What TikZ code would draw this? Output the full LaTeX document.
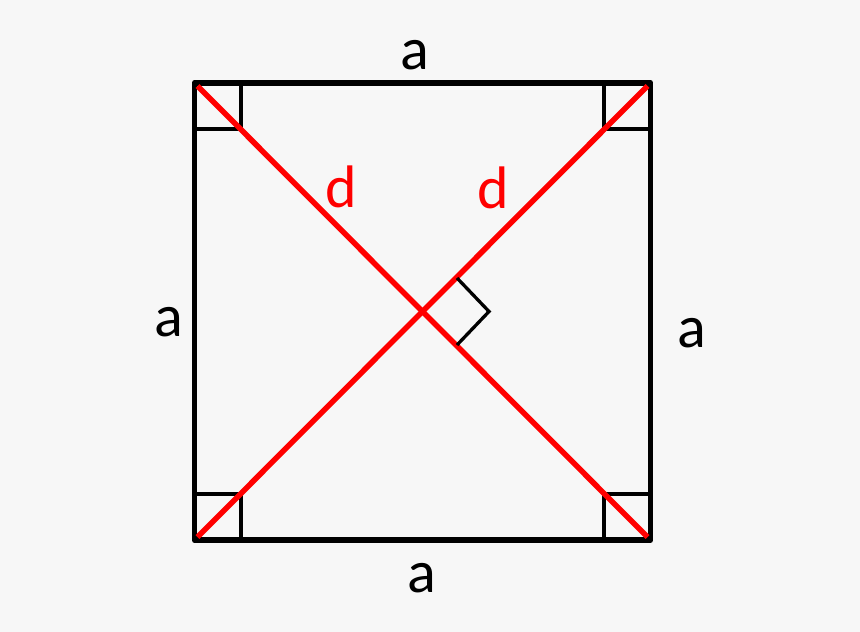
\documentclass[tikz,border=0pt]{standalone}
\usepackage{fontspec}
\setmainfont{Carlito}
\definecolor{bgcol}{HTML}{F7F7F7}
\definecolor{dred}{HTML}{FF0000}
\tikzset{
  side/.style={draw=black, line width=5.8pt, line join=round},
  cornermark/.style={draw=black, line width=3.3pt},
  diag/.style={draw=dred, line width=5.5pt},
  lbl/.style={font=\fontsize{60}{60}\selectfont, anchor=base, inner sep=0pt},
  dlbl/.style={lbl, text=dred}
}
\begin{document}
\begin{tikzpicture}[x=1pt,y=-1pt]
\useasboundingbox (0,0) rectangle (860,632);
\fill[bgcol] (0,0) rectangle (860,632);
\coordinate (TL) at (194.5,83);
\coordinate (TR) at (650.5,83);
\coordinate (BR) at (650.5,540);
\coordinate (BL) at (194.5,540);
\coordinate (C) at (422.5,311.5);
% square
\draw[side] (TL) -- (TR) -- (BR) -- (BL) -- cycle;
% corner right-angle marks
\draw[cornermark] (241,83) -- (241,129) -- (194.5,129);
\draw[cornermark] (604,83) -- (604,129) -- (650.5,129);
\draw[cornermark] (194.5,494) -- (241,494) -- (241,540);
\draw[cornermark] (604,540) -- (604,494) -- (650.5,494);
% diagonals
\coordinate (TLi) at (197.5,86);
\coordinate (BRi) at (647.5,537);
\coordinate (TRi) at (647.5,86);
\coordinate (BLi) at (197.5,537);
\draw[diag] (TLi) -- (BRi);
\draw[diag] (BLi) -- (TRi);
% center right-angle mark
\draw[cornermark, line join=miter] (457,278) -- (489,311.5) -- (457,345);
% labels
\node[lbl] (at) at (414.5,69) {a};
\node[lbl] (al) at (168.5,336) {a};
\node[lbl] (ar) at (692,347) {a};
\node[lbl] (ab) at (422,592) {a};
\node[dlbl] (d1) at (341.5,207) {d};
\node[dlbl] (d2) at (493.5,208) {d};
\end{tikzpicture}
\end{document}
